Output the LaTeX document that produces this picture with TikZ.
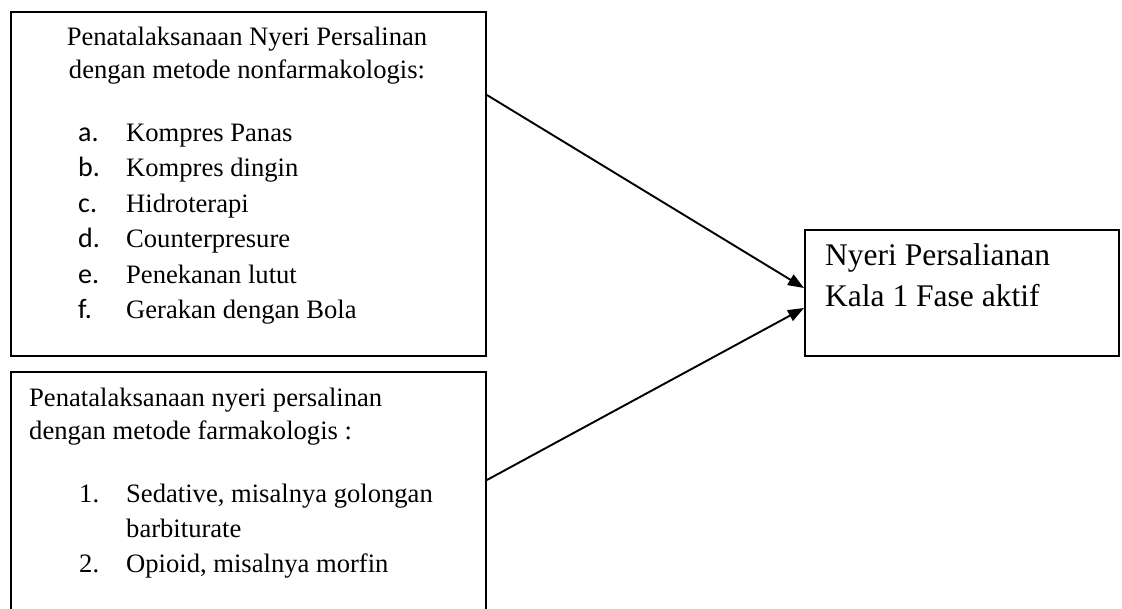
\documentclass[tikz,border=0pt]{standalone}
\usepackage{fontspec}
\setmainfont{Liberation Serif}
\newfontfamily\fl{Carlito}
\usetikzlibrary{arrows.meta}
\tikzset{
  box/.style={draw, line width=1.9pt, inner sep=0pt, anchor=north west},
  txt/.style={inner sep=0pt, anchor=base west},
  ctxt/.style={inner sep=0pt, anchor=base},
  fonta/.style={font=\fontsize{26.6}{30}\selectfont},
  fontc/.style={font=\fontsize{31.5}{36}\selectfont},
  fontl/.style={font=\fontsize{28}{32}\fl},
  arr/.style={line width=1.9pt, -{Triangle[length=16pt,width=12pt]}}
}
\begin{document}
\begin{tikzpicture}[x=1pt,y=-1pt]
\useasboundingbox (0,0) rectangle (1122,608);
\clip (0,0) rectangle (1122,608);
\fill[white] (0,0) rectangle (1122,608);
% boxes
\node[box, minimum width=475pt, minimum height=344pt] (b1) at (10,11) {};
\node[box, minimum width=475pt, minimum height=300pt] (b2) at (10,371) {};
\node[box, minimum width=314pt, minimum height=126pt] (b3) at (804,229) {};
% box 1 text
\node[ctxt, fonta] (t1a) at (247,45) {Penatalaksanaan Nyeri Persalinan};
\node[ctxt, fonta] (t1b) at (247,78) {dengan metode nonfarmakologis:};
\node[txt, fontl] (la) at (78,141) {a.};
\node[txt, fontl] (lb) at (78,176.5) {b.};
\node[txt, fontl] (lc) at (78,212) {c.};
\node[txt, fontl] (ld) at (78,247.5) {d.};
\node[txt, fontl] (le) at (78,283) {e.};
\node[txt, fontl] (lf) at (78,318.5) {f.};
\node[txt, fonta] (ia) at (126,141) {Kompres Panas};
\node[txt, fonta] (ib) at (126,176.5) {Kompres dingin};
\node[txt, fonta] (ic) at (126,212) {Hidroterapi};
\node[txt, fonta] (id) at (126,247.5) {Counterpresure};
\node[txt, fonta] (ie) at (126,283) {Penekanan lutut};
\node[txt, fonta] (if) at (126,318.5) {Gerakan dengan Bola};
% box 2 text
\node[txt, fonta] (t2a) at (29,406) {Penatalaksanaan nyeri persalinan};
\node[txt, fonta] (t2b) at (29,439) {dengan metode farmakologis :};
\node[txt, fonta] (n1) at (79,502) {1.};
\node[txt, fonta] (n2) at (79,572) {2.};
\node[txt, fonta] (j1) at (126,502) {Sedative, misalnya golongan};
\node[txt, fonta] (j1b) at (126,537) {barbiturate};
\node[txt, fonta] (j2) at (126,572) {Opioid, misalnya morfin};
% box 3 text
\node[txt, fontc] (t3a) at (825,265) {Nyeri Persalianan};
\node[txt, fontc] (t3b) at (825,306) {Kala 1 Fase aktif};
% connectors
\coordinate (s1) at (b1.east |- 0,95);
\coordinate (s2) at (b2.east |- 0,480);
\coordinate (e1) at (b3.west |- 0,288);
\coordinate (e2) at (b3.west |- 0,308);
\draw[arr] (s1) -- (e1);
\draw[arr] (s2) -- (e2);
\end{tikzpicture}
\end{document}
